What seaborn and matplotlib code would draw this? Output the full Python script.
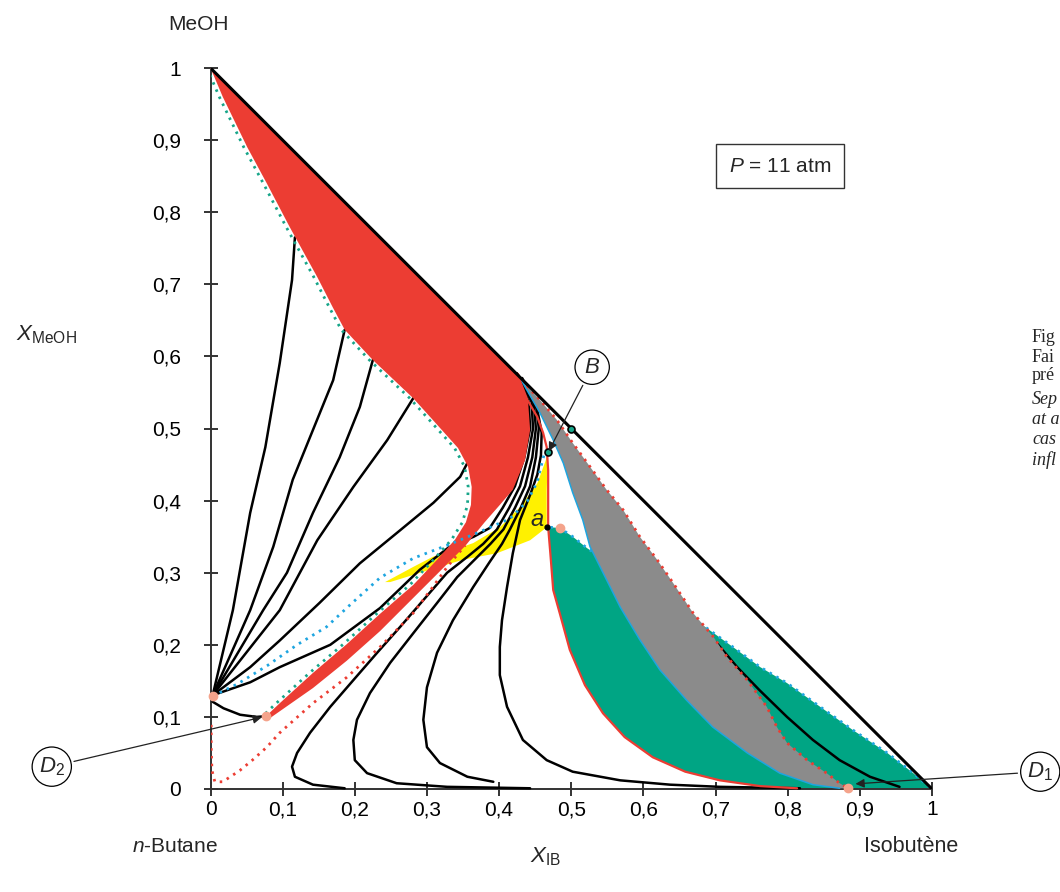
import numpy as np
import matplotlib
matplotlib.use("Agg")
import matplotlib.pyplot as plt
import matplotlib.transforms as mtransforms
import seaborn as sns

# ---- data (x = X_IB, y = X_MeOH) ----
x_ticks = [0, 0.1, 0.2, 0.3, 0.4, 0.5, 0.6, 0.7, 0.8, 0.9, 1]
tick_labels = ["0", "0,1", "0,2", "0,3", "0,4", "0,5", "0,6", "0,7", "0,8", "0,9", "1"]

# red domain: left boundary (green dotted) then lower arm back from D2
red_left = [(0.0, 1.0), (0.017, 0.960), (0.051, 0.890), (0.078, 0.840), (0.110, 0.779),
            (0.148, 0.710), (0.170, 0.667), (0.186, 0.637), (0.225, 0.595), (0.281, 0.542),
            (0.308, 0.512), (0.343, 0.473), (0.357, 0.447), (0.362, 0.419), (0.361, 0.394),
            (0.354, 0.370), (0.339, 0.346), (0.314, 0.318), (0.281, 0.283), (0.235, 0.243),
            (0.189, 0.201), (0.142, 0.161), (0.096, 0.119), (0.077, 0.101)]
red_right = [(0.077, 0.101), (0.082, 0.098), (0.142, 0.140), (0.189, 0.178), (0.235, 0.219),
             (0.281, 0.265), (0.318, 0.302), (0.353, 0.337), (0.380, 0.370), (0.401, 0.394),
             (0.419, 0.415), (0.436, 0.456), (0.443, 0.498), (0.440, 0.540), (0.425, 0.576)]

yellow = [(0.242, 0.287), (0.281, 0.308), (0.308, 0.322), (0.364, 0.341), (0.401, 0.363),
          (0.429, 0.391), (0.453, 0.424), (0.464, 0.454), (0.468, 0.467), (0.466, 0.415),
          (0.466, 0.363), (0.443, 0.345), (0.397, 0.327), (0.350, 0.318), (0.304, 0.304),
          (0.249, 0.287)]

gray_left = [(0.425, 0.576), (0.429, 0.570), (0.457, 0.521), (0.475, 0.484), (0.489, 0.452),
             (0.502, 0.411), (0.516, 0.373), (0.526, 0.336), (0.544, 0.300), (0.568, 0.252),
             (0.595, 0.207), (0.623, 0.165), (0.660, 0.123), (0.696, 0.086), (0.744, 0.050),
             (0.789, 0.022), (0.835, 0.006), (0.872, 0.001)]
gray_right = [(0.425, 0.576), (0.433, 0.565), (0.458, 0.538), (0.480, 0.512), (0.502, 0.480),
              (0.526, 0.447), (0.549, 0.415), (0.572, 0.387), (0.595, 0.350), (0.619, 0.318),
              (0.641, 0.286), (0.669, 0.244), (0.697, 0.211), (0.716, 0.183), (0.744, 0.151),
              (0.771, 0.114), (0.785, 0.086), (0.799, 0.064), (0.827, 0.040), (0.854, 0.022),
              (0.872, 0.008), (0.884, 0.001)]

red_solid_top = [(0.425, 0.576), (0.439, 0.540), (0.453, 0.516), (0.461, 0.494), (0.466, 0.474),
                 (0.468, 0.442), (0.468, 0.401), (0.468, 0.363)]
green_left = [(0.468, 0.363), (0.471, 0.327), (0.475, 0.276), (0.484, 0.244), (0.498, 0.193),
              (0.519, 0.144), (0.544, 0.105), (0.574, 0.072), (0.613, 0.044), (0.658, 0.024),
              (0.706, 0.012), (0.762, 0.004), (0.813, 0.001)]
green_top = [(0.471, 0.363), (0.484, 0.362), (0.502, 0.350), (0.522, 0.334), (0.568, 0.304),
             (0.623, 0.266), (0.688, 0.223), (0.724, 0.197), (0.762, 0.169), (0.799, 0.147),
             (0.845, 0.114), (0.890, 0.082), (0.938, 0.050), (0.974, 0.022), (1.0, 0.0)]

blue_dotted = [(0.003, 0.129), (0.038, 0.146), (0.080, 0.172), (0.120, 0.200), (0.161, 0.225),
               (0.193, 0.255), (0.235, 0.293), (0.281, 0.320), (0.328, 0.338), (0.374, 0.357),
               (0.415, 0.375), (0.439, 0.399), (0.453, 0.426), (0.458, 0.447), (0.464, 0.470)]
red_dotted = [(0.001, 0.089), (0.001, 0.057), (0.002, 0.026), (0.006, 0.010), (0.017, 0.010),
              (0.041, 0.026), (0.058, 0.040), (0.078, 0.058), (0.096, 0.078), (0.142, 0.119),
              (0.189, 0.155), (0.235, 0.197), (0.281, 0.244), (0.308, 0.280), (0.328, 0.308),
              (0.353, 0.338)]

# residue curves
curve_a1 = [(0.003, 0.130), (0.031, 0.248), (0.055, 0.383), (0.076, 0.474), (0.096, 0.591),
            (0.113, 0.706), (0.117, 0.765)]
curve_a2 = [(0.003, 0.130), (0.055, 0.248), (0.087, 0.336), (0.114, 0.429), (0.142, 0.498),
            (0.170, 0.567), (0.186, 0.637)]
curve_a3 = [(0.003, 0.130), (0.073, 0.248), (0.106, 0.300), (0.142, 0.383), (0.179, 0.460),
            (0.207, 0.530), (0.225, 0.595)]
curve_a4 = [(0.003, 0.130), (0.096, 0.248), (0.148, 0.345), (0.198, 0.419), (0.245, 0.484),
            (0.281, 0.542)]
curve_a5 = [(0.003, 0.130), (0.055, 0.169), (0.096, 0.206), (0.151, 0.258), (0.207, 0.313),
            (0.263, 0.359), (0.309, 0.397), (0.346, 0.433), (0.357, 0.454)]
curve_b1 = [(0.003, 0.130), (0.055, 0.148), (0.096, 0.169), (0.166, 0.200), (0.235, 0.251),
            (0.290, 0.304), (0.330, 0.335), (0.365, 0.350), (0.387, 0.362), (0.405, 0.390),
            (0.422, 0.420), (0.435, 0.460), (0.443, 0.500), (0.441, 0.537), (0.425, 0.576)]
curve_d2 = [(0.003, 0.121), (0.018, 0.112), (0.041, 0.103), (0.064, 0.100), (0.077, 0.101)]
curve_c1 = [(0.186, 0.001), (0.142, 0.006), (0.117, 0.017), (0.113, 0.031), (0.120, 0.050),
            (0.138, 0.078), (0.166, 0.114), (0.198, 0.151), (0.231, 0.189), (0.263, 0.225),
            (0.295, 0.262), (0.328, 0.300), (0.356, 0.322), (0.378, 0.340), (0.397, 0.360),
            (0.414, 0.390), (0.429, 0.420), (0.440, 0.460), (0.447, 0.500), (0.445, 0.537),
            (0.425, 0.576)]
curve_c2 = [(0.443, 0.001), (0.328, 0.003), (0.258, 0.008), (0.217, 0.022), (0.200, 0.040),
            (0.198, 0.068), (0.203, 0.096), (0.221, 0.133), (0.249, 0.175), (0.281, 0.216),
            (0.314, 0.258), (0.342, 0.294), (0.366, 0.318), (0.388, 0.340), (0.406, 0.360),
            (0.422, 0.390), (0.436, 0.420), (0.446, 0.460), (0.451, 0.500), (0.448, 0.537),
            (0.425, 0.576)]
curve_c3 = [(0.392, 0.010), (0.356, 0.017), (0.318, 0.036), (0.300, 0.058), (0.295, 0.096),
            (0.300, 0.141), (0.314, 0.189), (0.336, 0.234), (0.364, 0.280), (0.387, 0.315),
            (0.404, 0.340), (0.415, 0.360), (0.430, 0.390), (0.443, 0.420), (0.451, 0.460),
            (0.455, 0.500), (0.451, 0.537), (0.427, 0.573)]
curve_c4 = [(0.817, 0.001), (0.706, 0.003), (0.637, 0.006), (0.568, 0.012), (0.502, 0.024),
            (0.466, 0.040), (0.433, 0.068), (0.411, 0.114), (0.401, 0.158), (0.401, 0.197),
            (0.404, 0.234), (0.411, 0.280), (0.419, 0.327), (0.429, 0.373), (0.443, 0.408),
            (0.453, 0.436), (0.458, 0.463), (0.459, 0.494), (0.453, 0.526), (0.432, 0.570)]
curve_e = [(0.600, 0.300), (0.650, 0.245), (0.702, 0.202), (0.730, 0.169), (0.761, 0.137),
           (0.799, 0.100), (0.835, 0.068), (0.872, 0.040), (0.914, 0.017), (0.955, 0.003)]

azeo_pt = (0.003, 0.129)
d2_pt = (0.077, 0.101)
d1_pt = (0.884, 0.001)
b_pt = (0.468, 0.467)
mid_pt = (0.5, 0.5)
a_pt = (0.466, 0.363)
a_pink = (0.484, 0.362)

side_lines = ["Fig", "Fai", "pré", "Sep", "at a", "cas", "infl"]

# ---- colours ----
RED = "#ec3d33"
YELLOW = "#fff100"
GRAY = "#8b8b8b"
GREEN = "#00a584"
BLUE = "#1ea5e0"
TEAL = "#17a589"
PINK = "#f4a38b"

sns.set_theme(style="ticks")
plt.rcParams["font.family"] = ["Liberation Sans", "DejaVu Sans"]
plt.rcParams["mathtext.fontset"] = "custom"
plt.rcParams["mathtext.rm"] = "Liberation Sans"
plt.rcParams["mathtext.it"] = "Liberation Sans:italic"

fig = plt.figure(figsize=(10.6, 8.92), dpi=100, facecolor="white")
ax = fig.add_axes([210.5 / 1060, (892 - 789) / 892, 721.5 / 1060, 721 / 892])


def arr(pts):
    return np.asarray(pts, dtype=float)


def line(pts, **kw):
    p = arr(pts)
    sns.lineplot(x=p[:, 0], y=p[:, 1], sort=False, estimator=None, ax=ax, **kw)


def fill(pts, color, z):
    p = arr(pts)
    ax.fill(p[:, 0], p[:, 1], color=color, lw=0, zorder=z, clip_on=False)


dot = (0, (0.9, 1.9))
DLW = 2.0

# filled domains
fill(yellow, YELLOW, 1)
fill(green_left + [(1.0, 0.0)] + green_top[::-1], GREEN, 2)
# blue separatrix on top of the green domain, partly hidden by the grey one
line(green_top, color=BLUE, lw=DLW, ls=dot, zorder=2.5, clip_on=False)

# residue curves
for c in [curve_a1, curve_a2, curve_a3, curve_a4, curve_a5, curve_b1, curve_d2,
          curve_c1, curve_c2, curve_c3, curve_c4, curve_e]:
    line(c, color="black", lw=1.8, zorder=3, solid_capstyle="round", clip_on=False)

fill(gray_left + gray_right[::-1], GRAY, 4)
fill(red_left + red_right[1:], RED, 5)

# separatrices / boundaries
shift_left = ax.transData + mtransforms.ScaledTranslation(-2.5 / 72, 0, fig.dpi_scale_trans)
p = arr(red_left)
ax.plot(p[:, 0], p[:, 1], color=TEAL, lw=DLW, ls=dot, transform=shift_left, zorder=6)
line(blue_dotted, color=BLUE, lw=DLW, ls=dot, zorder=6)
line(red_dotted, color=RED, lw=DLW, ls=dot, zorder=6)
line(gray_right, color=RED, lw=DLW, ls=dot, zorder=6, clip_on=False)
line(gray_left, color=BLUE, lw=1.1, zorder=6, clip_on=False)
line(red_solid_top + green_left, color=RED, lw=1.6, zorder=6, clip_on=False)

# triangle hypotenuse
ax.plot([0, 1], [1, 0], color="black", lw=2.2, zorder=7, solid_capstyle="round")

# singular points
for pt in [azeo_pt, d2_pt, d1_pt, a_pink]:
    ax.plot(*pt, "o", ms=6, mfc=PINK, mec=PINK, zorder=8, clip_on=False)
for pt in [b_pt, mid_pt]:
    ax.plot(*pt, "o", ms=5, mfc=TEAL, mec="black", mew=1.2, zorder=8)
ax.plot(*a_pt, "o", ms=3.5, color="black", zorder=8)

# axes
ax.set_xlim(0, 1)
ax.set_ylim(0, 1)
ax.set_xticks(x_ticks)
ax.set_xticklabels(tick_labels)
ax.set_yticks(x_ticks)
ax.set_yticklabels(tick_labels)
sns.despine(ax=ax)
for s in ["left", "bottom"]:
    ax.spines[s].set_color("#333333")
    ax.spines[s].set_linewidth(1.4)
ax.tick_params(direction="inout", length=10, width=1.4, color="#333333",
               labelsize=15, labelcolor="black")
ax.tick_params(axis="y", pad=16)
ax.tick_params(axis="x", pad=3)
ax.set_facecolor("white")

# labels
ax.text(-0.017, 1.060, "MeOH", fontsize=15, ha="center", va="center", clip_on=False)
ax.text(-0.228, 0.630, r"$\mathit{X}_{\mathrm{MeOH}}$", fontsize=16, ha="center", va="center")
ax.text(0.464, -0.094, r"$\mathit{X}_{\mathrm{IB}}$", fontsize=16, ha="center", va="center")
ax.text(-0.049, -0.080, r"$\mathit{n}$-Butane", fontsize=15, ha="center", va="center")
ax.text(0.971, -0.080, "Isobutène", fontsize=15.5, ha="center", va="center")
ax.text(0.789, 0.864, r"$\mathit{P}$ = 11 atm", fontsize=15, ha="center", va="center",
        bbox=dict(boxstyle="square,pad=0.62", fc="white", ec="#333333", lw=1.0))
ax.text(0.453, 0.374, "a", fontsize=17, style="italic", ha="center", va="center", zorder=9)

circ = dict(boxstyle="circle,pad=0.3", fc="white", ec="black", lw=0.9)
arrow = dict(arrowstyle="-|>", color="#222222", lw=0.9, mutation_scale=13, shrinkB=1)
ax.annotate("B", xy=b_pt, xytext=(0.529, 0.585), fontsize=16, style="italic",
            ha="center", va="center", bbox=circ, arrowprops=arrow, zorder=9)
ax.annotate(r"$\mathit{D}_{\mathrm{2}}$", xy=(0.073, 0.100), xytext=(-0.220, 0.031),
            fontsize=16, ha="center", va="center", bbox=circ, arrowprops=arrow,
            annotation_clip=False, zorder=9)
ax.annotate(r"$\mathit{D}_{\mathrm{1}}$", xy=(0.892, 0.007), xytext=(1.150, 0.024),
            fontsize=16, ha="center", va="center", bbox=circ, arrowprops=arrow,
            annotation_clip=False, zorder=9)

# caption fragment cut by the right margin
side_y = [338, 358, 376, 399, 420, 440, 460]
for i, (txt, yy) in enumerate(zip(side_lines, side_y)):
    fig.text(1032 / 1060, 1 - yy / 892, txt, fontsize=13, ha="left", va="center",
             family=["Liberation Serif", "DejaVu Serif"],
             style="italic" if i >= 3 else "normal")

fig.savefig("out.png", dpi=100, facecolor="white")
